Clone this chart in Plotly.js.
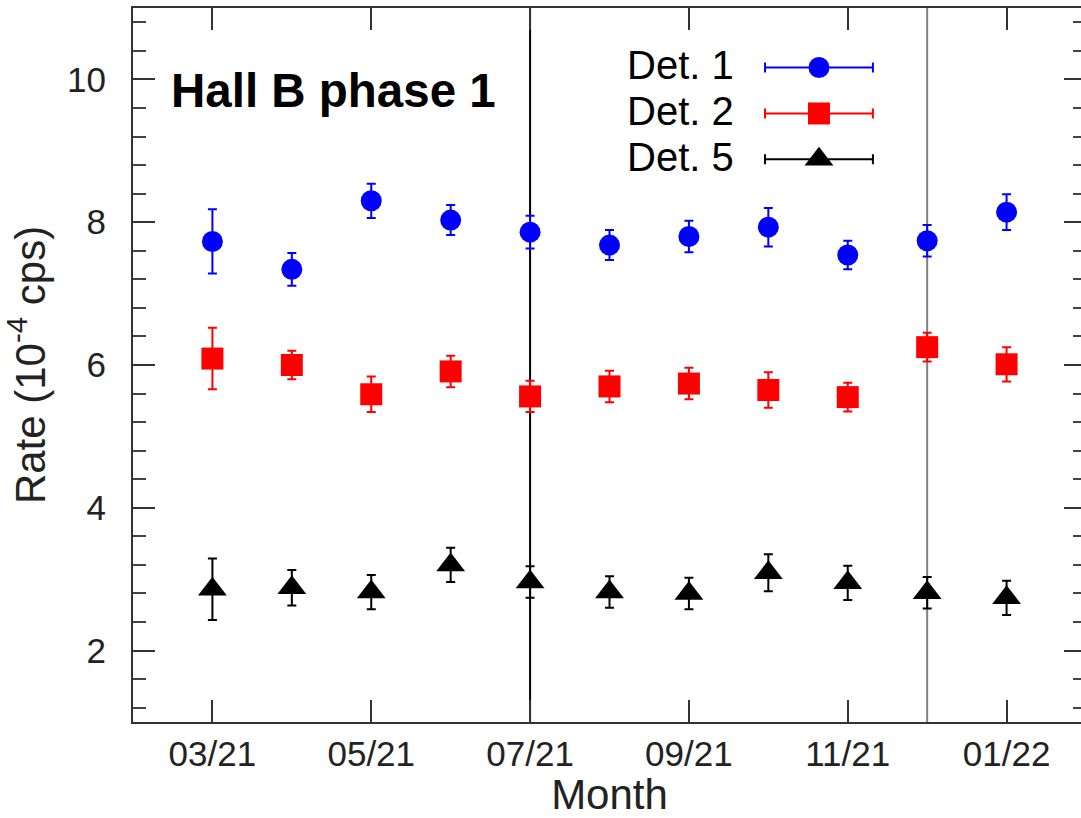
<!DOCTYPE html>
<html><head><meta charset="utf-8">
<script src="https://cdn.plot.ly/plotly-3.0.1.min.js"></script>
<style>html,body{margin:0;padding:0;overflow:hidden;background:#fff;} #chart{width:1090px;height:818px;}</style>
</head><body><div id="chart"></div>
<script>
// Month index: 3 = 03/21 ... 13 = 01/22
const months = [3,4,5,6,7,8,9,10,11,12,13];
const tickMonths = [3,5,7,9,11,13];
const tickLabels = ['03/21','05/21','07/21','09/21','11/21','01/22'];
const det1 = [7.73,7.34,8.30,8.03,7.86,7.68,7.80,7.93,7.54,7.74,8.14];
const det1Err = [0.45,0.23,0.24,0.21,0.23,0.21,0.22,0.27,0.20,0.22,0.25];
const det2 = [6.09,6.00,5.59,5.91,5.56,5.70,5.74,5.65,5.55,6.25,6.01];
const det2Err = [0.43,0.20,0.25,0.22,0.22,0.22,0.22,0.25,0.20,0.20,0.24];
const det5 = [2.86,2.88,2.82,3.20,2.96,2.82,2.80,3.09,2.95,2.81,2.74];
const det5Err = [0.43,0.25,0.24,0.24,0.22,0.22,0.22,0.26,0.24,0.22,0.24];
const seriesNames = ['Det. 1','Det. 2','Det. 5'];
const periodLines = [7, 12];

const colors = ['#0000ff','#ff0000','#000000'];
const symbols = ['circle','square','triangle-up'];
const sizes = [21,22,25];
const ys = [det1,det2,det5];
const errs = [det1Err,det2Err,det5Err];

const traces = ys.map((y,i)=>({
  x: months, y: y, type:'scatter', mode:'markers', name: seriesNames[i], showlegend:false,
  marker:{symbol:symbols[i], size:sizes[i], color:colors[i], line:{width:0}},
  error_y:{type:'data', array:errs[i], visible:true, color:colors[i], thickness:2, width:4.5},
  cliponaxis:false
}));

// custom legend (text left, sample right) drawn on an overlay axis in [0,1]
const legX = 0.7198, legHalf = 0.0566, legY = [0.9167,0.8523,0.788];
ys.forEach((y,i)=>{
  traces.push({
    x:[legX], y:[legY[i]], xaxis:'x2', yaxis:'y2', type:'scatter', mode:'markers', showlegend:false,
    marker:{symbol:symbols[i], size:sizes[i], color:colors[i], line:{width:0}},
    error_x:{type:'constant', value:legHalf, visible:true, color:colors[i], thickness:2, width:5},
    hoverinfo:'skip', cliponaxis:false
  });
});

const annotations = [{
  xref:'paper', yref:'paper', x:0.038, y:0.885, xanchor:'left', yanchor:'middle',
  text:'<b>Hall B phase 1</b>', showarrow:false,
  font:{family:'Liberation Sans, Arial, sans-serif', size:47.5, color:'#000'}
}];
seriesNames.forEach((n,i)=>annotations.push({
  xref:'paper', yref:'paper', x:0.633, y:legY[i]+0.004, xanchor:'right', yanchor:'middle',
  text:n, showarrow:false, font:{family:'Liberation Sans, Arial, sans-serif', size:40, color:'#000'}
}));

const shapes = periodLines.map((m,i)=>({
  type:'line', xref:'x', yref:'paper', x0:m, x1:m, y0:0, y1:1,
  line:{color: i===0 ? '#000000' : '#808080', width:2}, layer:'below'
}));

const axisFont = {family:'Liberation Sans, Arial, sans-serif', size:35, color:'#222'};
const layout = {
  width:1090, height:818,
  margin:{l:133, r:4, t:8, b:96},
  paper_bgcolor:'#fff', plot_bgcolor:'#fff',
  font:{family:'Liberation Sans, Arial, sans-serif', color:'#222'},
  xaxis:{
    range:[2,14], tickmode:'array', tickvals:tickMonths, ticktext:tickLabels,
    ticks:'inside', ticklen:22, tickwidth:2, tickcolor:'#333',
    showline:true, linecolor:'#333', linewidth:2, mirror:'ticks',
    showgrid:false, zeroline:false, tickfont:axisFont, ticklabelstandoff:0,
    title:{text:'Month', font:{family:'Liberation Sans, Arial, sans-serif', size:42, color:'#222'}, standoff:19},
    automargin:false, fixedrange:true
  },
  yaxis:{
    range:[1,11], tickmode:'linear', tick0:0, dtick:2,
    ticks:'inside', ticklen:22, tickwidth:2, tickcolor:'#333',
    minor:{dtick:0.4, tick0:0, ticks:'inside', ticklen:13, tickwidth:2, tickcolor:'#444', showgrid:false},
    showline:true, linecolor:'#333', linewidth:2, mirror:'ticks',
    showgrid:false, zeroline:false, tickfont:axisFont, ticklabelstandoff:18,
    title:{text:'Rate (10<sup>-4</sup> cps)', font:{family:'Liberation Sans, Arial, sans-serif', size:42, color:'#222'}, standoff:20},
    automargin:false, fixedrange:true
  },
  xaxis2:{overlaying:'x', range:[0,1], visible:false, fixedrange:true},
  yaxis2:{overlaying:'y', range:[0,1], visible:false, fixedrange:true},
  showlegend:false,
  annotations: annotations,
  shapes: shapes
};
Plotly.newPlot('chart', traces, layout, {staticPlot:true, displayModeBar:false});
</script></body></html>
